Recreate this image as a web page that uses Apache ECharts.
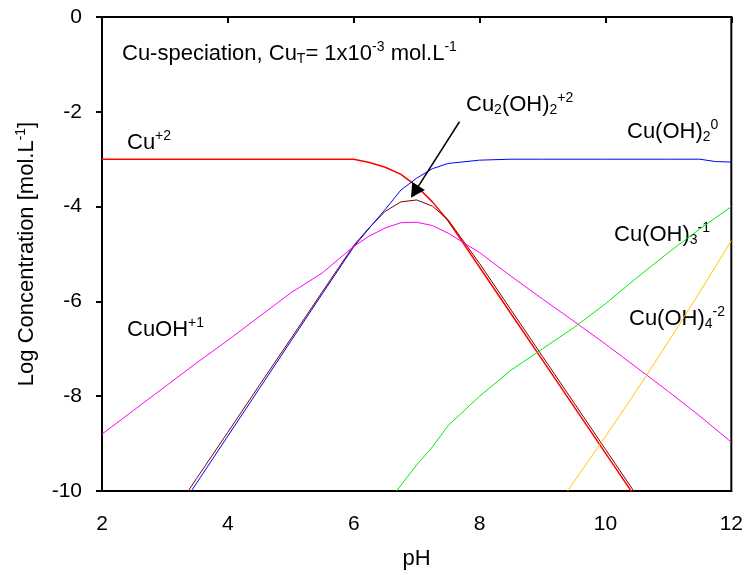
<!DOCTYPE html>
<html>
<head>
<meta charset="utf-8">
<title>Cu speciation</title>
<script src="https://cdn.jsdelivr.net/npm/echarts@6/dist/echarts.min.js"></script>
<style>
  html, body { margin: 0; padding: 0; background: #fff; }
  #chart { width: 746px; height: 575px; }
</style>
</head>
<body>
<div id="chart"></div>
<script>
// Log concentration of each copper species versus pH, [pH, log C] pairs
const cu2 = [
  [2, -3], [2.5, -3], [3, -3], [3.5, -3], [4, -3], [4.5, -3], [5, -3], [5.5, -3], [6, -3],
  [6.25, -3.07], [6.5, -3.17], [6.75, -3.32], [7, -3.57], [7.25, -3.9], [7.5, -4.3],
  [8, -5.28], [8.5, -6.26], [9, -7.24], [9.5, -8.22], [10, -9.2], [10.5, -10.18]
];
const cu2oh2 = [
  [3.37, -10], [3.5, -9.74], [4, -8.76], [4.5, -7.77], [5, -6.79], [5.5, -5.8], [6, -4.82],
  [6.25, -4.44], [6.5, -4.1], [6.75, -3.9], [7, -3.86], [7.25, -3.99], [7.5, -4.28],
  [8, -5.2], [8.5, -6.18], [9, -7.16], [9.5, -8.14], [10, -9.12], [10.5, -10.1]
];
const cuoh2 = [
  [3.42, -10], [3.5, -9.84], [4, -8.84], [4.5, -7.84], [5, -6.84], [5.5, -5.84], [6, -4.85],
  [6.25, -4.45], [6.5, -4.06], [6.75, -3.65], [7, -3.4], [7.25, -3.2], [7.5, -3.09],
  [8, -3.02], [8.5, -3], [9, -3], [9.5, -3], [10, -3], [10.5, -3], [11, -3], [11.5, -3],
  [11.75, -3.05], [12, -3.06]
];
const cuoh = [
  [2, -8.8], [2.5, -8.3], [3, -7.8], [3.5, -7.3], [4, -6.82], [4.5, -6.32], [5, -5.82],
  [5.5, -5.4], [6, -4.84], [6.25, -4.62], [6.5, -4.45], [6.75, -4.34], [7, -4.33],
  [7.25, -4.4], [7.5, -4.56], [8, -4.97], [8.5, -5.47], [9, -5.95], [9.5, -6.42],
  [10, -6.9], [10.5, -7.4], [11, -7.9], [11.5, -8.42], [12, -8.97]
];
const cuoh3 = [
  [6.68, -10], [7, -9.45], [7.25, -9.07], [7.5, -8.62], [8, -8.0], [8.5, -7.45], [9, -7.0],
  [9.5, -6.55], [10, -6.05], [10.5, -5.5], [11, -4.97], [11.5, -4.47], [12, -4.0]
];
const cuoh4 = [
  [9.4, -10], [9.5, -9.8], [10, -8.85], [10.5, -7.87], [11, -6.85], [11.5, -5.8], [12, -4.72]
];

// Pointer from the Cu2(OH)2 label down to its peak: [start, arrow centre]
const pointer = [[7.68, -2.21], [6.97, -3.69]];

const FONT = '"Liberation Sans", Arial, sans-serif';
const supStyle = { fontSize: 14, lineHeight: 14, fontFamily: FONT, fill: '#000', color: '#000', padding: [0, 0, 13, 0] };
const subStyle = { fontSize: 14, lineHeight: 14, fontFamily: FONT, fill: '#000', color: '#000', padding: [11, 0, 0, 0] };
const mainStyle = { fontSize: 22, lineHeight: 22, fontFamily: FONT, fill: '#000', color: '#000' };
const richText = { m: mainStyle, sup: supStyle, sub: subStyle };

function label(x, y, text) {
  return {
    type: 'text',
    x: x, y: y,
    silent: true,
    style: { text: text, rich: richText, fill: '#000', font: '22px ' + FONT, align: 'left', verticalAlign: 'middle' }
  };
}

function curve(name, data, color, width) {
  return {
    name: name, type: 'line', data: data, showSymbol: false, clip: true,
    lineStyle: { color: color, width: width }, itemStyle: { color: color }
  };
}

const chart = echarts.init(document.getElementById('chart'));
const series = [
  curve('Cu+2', cu2, '#ff0000', 1.5),
  curve('Cu2(OH)2+2', cu2oh2, '#800000', 1),
  curve('Cu(OH)2', cuoh2, '#0000ff', 1),
  curve('CuOH+1', cuoh, '#ff00ff', 1),
  curve('Cu(OH)3-1', cuoh3, '#00ee00', 1),
  curve('Cu(OH)4-2', cuoh4, '#ffc800', 1)
];
series[1].markLine = {
  silent: true,
  symbol: ['none', 'triangle'],
  symbolSize: [15, 14],
  label: { show: false },
  lineStyle: { color: '#000', width: 1.5, type: 'solid' },
  itemStyle: { color: '#000' },
  emphasis: { disabled: true },
  data: [[{ coord: pointer[0] }, { coord: pointer[1] }]]
};

chart.setOption({
  animation: false,
  backgroundColor: '#fff',
  grid: { left: 102, right: 14, top: 17, bottom: 84, show: true, borderColor: '#000', borderWidth: 2 },
  xAxis: {
    type: 'value', min: 2, max: 12, interval: 2,
    name: 'pH', nameLocation: 'middle', nameGap: 57,
    nameTextStyle: { fontSize: 22, fontFamily: FONT, color: '#000' },
    axisLine: { lineStyle: { color: '#000', width: 2 } },
    axisTick: { show: true, inside: false, length: 6, lineStyle: { color: '#000', width: 2 } },
    axisLabel: { fontSize: 21, fontFamily: FONT, color: '#000', margin: 23 },
    splitLine: { show: false }
  },
  yAxis: {
    type: 'value', min: -10, max: 0, interval: 2,
    name: 'Log Concentration [mol.L{sup|-1}]', nameLocation: 'middle', nameGap: 62,
    nameTextStyle: {
      fontSize: 22, fontFamily: FONT, color: '#000',
      rich: { sup: { fontSize: 14, fontFamily: FONT, color: '#000', lineHeight: 14, padding: [0, 0, 13, 0] } }
    },
    axisLine: { lineStyle: { color: '#000', width: 2 } },
    axisTick: { show: true, inside: false, length: 6, lineStyle: { color: '#000', width: 2 } },
    axisLabel: { fontSize: 21, fontFamily: FONT, color: '#000', margin: 20 },
    splitLine: { show: false }
  },
  series: series,
  graphic: [
    label(122, 54, '{m|Cu-speciation, Cu}{sub|T}{m|= 1x10}{sup|-3}{m| mol.L}{sup|-1}'),
    label(127, 143, '{m|Cu}{sup|+2}'),
    label(466, 105, '{m|Cu}{sub|2}{m|(OH)}{sub|2}{sup|+2}'),
    label(627, 132, '{m|Cu(OH)}{sub|2}{sup|0}'),
    label(614, 235, '{m|Cu(OH)}{sub|3}{sup|-1}'),
    label(629, 319, '{m|Cu(OH)}{sub|4}{sup|-2}'),
    label(127, 330, '{m|CuOH}{sup|+1}')
  ]
});
</script>
</body>
</html>
